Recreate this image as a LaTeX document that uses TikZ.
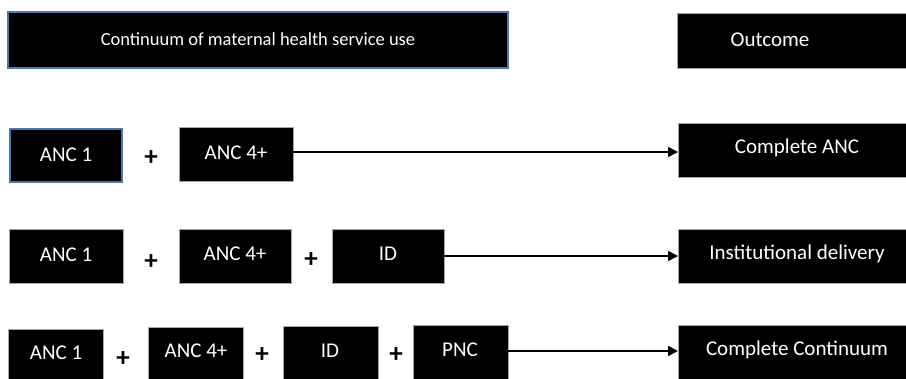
\documentclass[tikz,border=0pt]{standalone}
\usepackage{fontspec}
\setmainfont{Carlito}
\usetikzlibrary{arrows.meta}
\definecolor{bdgray}{HTML}{A6A6A6}
\definecolor{bdblue}{HTML}{4A78A8}
\begin{document}
\begin{tikzpicture}[x=1pt,y=-1pt,
  blk/.style={fill=black,draw=bdgray,line width=0.8pt},
  blkb/.style={blk,draw=bdblue,line width=1.2pt},
  lbl/.style={text=white,inner sep=0pt,font=\fontsize{21}{24}\selectfont},
  plus/.style={font=\fontsize{27}{28}\selectfont\bfseries,inner sep=0pt},
  arr/.style={line width=1.8pt,-{Triangle[length=10pt,width=10pt]}}]
\useasboundingbox[fill=white] (0,0) rectangle (906,378);
% header
\draw[blkb] (8,12) rectangle (508,68);
\node[lbl,font=\fontsize{18.5}{22}\selectfont] (head) at (258,39) {Continuum of maternal health service use};
\draw[blk] (677,13) rectangle (912,68);
\node[lbl] (outh) at (770,40) {Outcome};
% row 1
\draw[blkb] (10,129) rectangle (122,182);
\node[lbl] (a1) at (66,155) {ANC 1};
\node[plus] (p11) at (151,158) {+};
\draw[blk] (179,127) rectangle (293,181);
\node[lbl] (a4) at (236,153) {ANC 4+};
\coordinate (a4r) at (293,152);
\draw[blk] (678,123) rectangle (912,177);
\node[lbl] (o1) at (797,148) {Complete ANC};
\coordinate (o1l) at (678,152);
\draw[arr] (a4r) -- (o1l);
% row 2
\draw[blk] (9,229) rectangle (123,283);
\node[lbl] (b1) at (66,255) {ANC 1};
\node[plus] (p21) at (151,262) {+};
\draw[blk] (179,229) rectangle (291,283);
\node[lbl] (b4) at (235,254) {ANC 4+};
\node[plus] (p22) at (311,260) {+};
\draw[blk] (332,229) rectangle (444,283);
\node[lbl] (bid) at (388,254) {ID};
\coordinate (bidr) at (444,256);
\draw[blk] (678,229) rectangle (912,283);
\node[lbl] (o2) at (797,254) {Institutional delivery};
\coordinate (o2l) at (678,256);
\draw[arr] (bidr) -- (o2l);
% row 3
\draw[blk] (8,329) rectangle (103,390);
\node[lbl] (c1) at (56,353) {ANC 1};
\node[plus] (p31) at (123,359) {+};
\draw[blk] (148,327) rectangle (243,390);
\node[lbl] (c4) at (196,351) {ANC 4+};
\node[plus] (p32) at (262,355) {+};
\draw[blk] (283,326) rectangle (378,390);
\node[lbl] (cid) at (330,351) {ID};
\node[plus] (p33) at (396,355) {+};
\draw[blk] (413,325) rectangle (508,390);
\node[lbl] (cpnc) at (460,350) {PNC};
\coordinate (cpncr) at (508,351);
\draw[blk] (678,325) rectangle (912,390);
\node[lbl] (o3) at (797,350) {Complete Continuum};
\coordinate (o3l) at (678,351);
\draw[arr] (cpncr) -- (o3l);
\end{tikzpicture}
\end{document}
